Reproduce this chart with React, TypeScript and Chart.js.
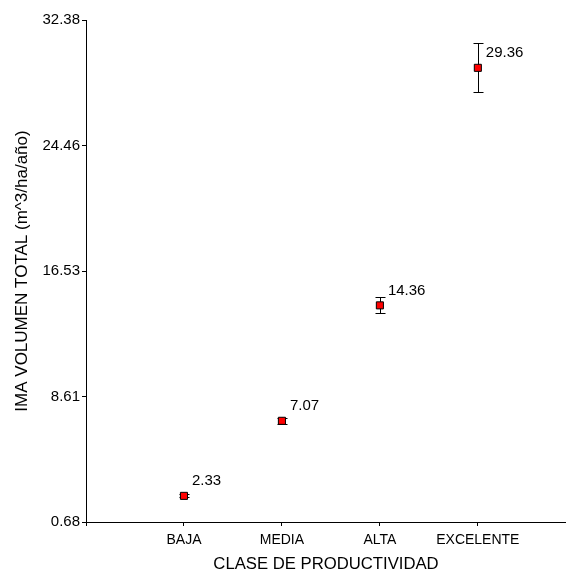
import React, { useEffect, useRef } from "react";
import { Chart, registerables } from "chart.js";

Chart.register(...registerables);

// Productivity classes and mean annual increment (m^3/ha/año)
const categories = ["BAJA", "MEDIA", "ALTA", "EXCELENTE"];
const meanValues = [2.33, 7.07, 14.36, 29.36];
const errorValues = [0.1, 0.2, 0.5, 1.55];
const yTicks = [0.68, 8.61, 16.53, 24.46, 32.38];

const FONT = "'Liberation Sans', Arial, sans-serif";

const errorBarsPlugin = {
  id: "errorBars",
  beforeDatasetsDraw(chart: any) {
    const { ctx, scales } = chart;
    const xs = scales.x;
    const ys = scales.y;
    ctx.save();
    ctx.strokeStyle = "#000";
    ctx.lineWidth = 1;
    meanValues.forEach((v, i) => {
      const x = Math.round(xs.getPixelForValue(i + 1)) + 0.5;
      const yTop = ys.getPixelForValue(v + errorValues[i]);
      const yBot = ys.getPixelForValue(v - errorValues[i]);
      ctx.beginPath();
      ctx.moveTo(x, yTop);
      ctx.lineTo(x, yBot);
      ctx.moveTo(x - 5, Math.round(yTop) + 0.5);
      ctx.lineTo(x + 5, Math.round(yTop) + 0.5);
      ctx.moveTo(x - 5, Math.round(yBot) + 0.5);
      ctx.lineTo(x + 5, Math.round(yBot) + 0.5);
      ctx.stroke();
    });
    ctx.restore();
  },
  afterDatasetsDraw(chart: any) {
    const { ctx, scales } = chart;
    const xs = scales.x;
    const ys = scales.y;
    ctx.save();
    ctx.fillStyle = "#000";
    ctx.font = `15px ${FONT}`;
    ctx.textAlign = "left";
    ctx.textBaseline = "middle";
    meanValues.forEach((v, i) => {
      const x = xs.getPixelForValue(i + 1);
      const y = ys.getPixelForValue(v);
      ctx.fillText(v.toFixed(2), x + 8, y - 15);
    });
    ctx.restore();
  },
};

export default function App() {
  const canvasRef = useRef<HTMLCanvasElement | null>(null);

  useEffect(() => {
    if (!canvasRef.current) return;
    const chart = new Chart(canvasRef.current, {
      type: "scatter",
      data: {
        datasets: [
          {
            data: meanValues.map((v, i) => ({ x: i + 1, y: v })),
            pointStyle: "rect",
            pointRadius: 5,
            pointBackgroundColor: "#ff0000",
            pointBorderColor: "#000",
            pointBorderWidth: 1,
            showLine: false,
          },
        ],
      },
      options: {
        responsive: false,
        animation: false,
        layout: { autoPadding: false, padding: { top: 20, right: 0, left: 0, bottom: 0 } },
        plugins: {
          legend: { display: false },
          tooltip: { enabled: false },
        },
        scales: {
          x: {
            type: "linear",
            min: 0,
            max: 4.9,
            afterBuildTicks: (scale: any) => {
              scale.ticks = [0, 1, 2, 3, 4].map((v) => ({ value: v }));
            },
            afterFit: (scale: any) => {
              scale.height = 52;
              scale.paddingRight = 0;
              scale.paddingLeft = 0;
            },
            ticks: {
              autoSkip: false,
              maxRotation: 0,
              padding: 6,
              color: "#000",
              font: { family: FONT, size: 14 },
              callback: (v: any) => (v >= 1 && v <= 4 ? categories[v - 1] : ""),
            },
            grid: {
              drawOnChartArea: false,
              drawTicks: true,
              tickLength: 4,
              color: "#000",
            },
            border: { display: true, color: "#000", width: 1 },
            title: {
              display: true,
              text: "CLASE DE PRODUCTIVIDAD",
              color: "#000",
              font: { family: FONT, size: 16.7 },
              padding: { top: 0, bottom: 0 },
            },
          },
          y: {
            type: "linear",
            min: 0.68,
            max: 32.38,
            afterBuildTicks: (scale: any) => {
              scale.ticks = yTicks.map((v) => ({ value: v }));
            },
            afterFit: (scale: any) => {
              scale.width = 86;
            },
            ticks: {
              padding: 2,
              color: "#000",
              font: { family: FONT, size: 15 },
              callback: (v: any) => Number(v).toFixed(2),
            },
            grid: {
              drawOnChartArea: false,
              drawTicks: true,
              tickLength: 4,
              color: "#000",
            },
            border: { display: true, color: "#000", width: 1 },
            title: {
              display: true,
              text: "IMA VOLUMEN TOTAL (m^3/ha/año)",
              color: "#000",
              font: { family: FONT, size: 17 },
              padding: { top: 12, bottom: 0 },
            },
          },
        },
      },
      plugins: [errorBarsPlugin],
    });
    return () => chart.destroy();
  }, []);

  return (
    <div style={{ position: "absolute", left: 0, top: 0, width: 566, height: 574, background: "#fff" }}>
      <canvas ref={canvasRef} width={566} height={574} />
    </div>
  );
}
